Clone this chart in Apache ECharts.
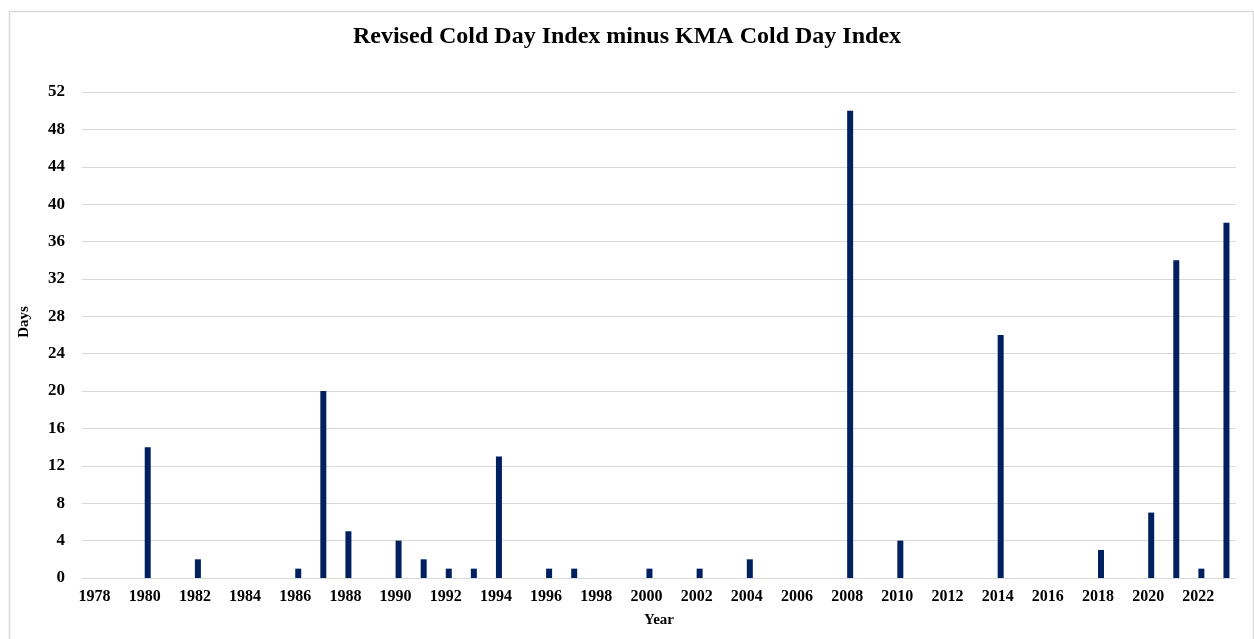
<!DOCTYPE html>
<html>
<head>
<meta charset="utf-8">
<script src="https://cdn.jsdelivr.net/npm/echarts@6/dist/echarts.min.js"></script>
<style>html,body{margin:0;padding:0;background:#fff;}#c{width:1254px;height:639px;}</style>
</head>
<body>
<div id="c"></div>
<script>
const years = [];
for (let y = 1978; y <= 2023; y++) years.push(String(y));
const values = [0,0,14,0,2,0,0,0,1,20,5,0,4,2,1,1,13,0,1,1,0,0,1,0,1,0,2,0,0,0,50,0,4,0,0,0,26,0,0,0,3,0,7,34,1,38];
const titleText = 'Revised Cold Day Index minus KMA Cold Day Index';
const yName = 'Days';
const xName = 'Year';

const chart = echarts.init(document.getElementById('c'));
const font = '"Liberation Serif", "Times New Roman", serif';
chart.setOption({
  animation: false,
  graphic: [{
    type: 'rect', left: 7, top: 9, silent: true,
    shape: { width: 1244, height: 640 },
    style: { fill: 'none', stroke: '#d9d9d9', lineWidth: 1.5 }
  }],
  title: {
    text: titleText, left: 'center', top: 20,
    textStyle: { fontFamily: font, fontWeight: 'bold', fontSize: 24, color: '#000' }
  },
  grid: { left: 82, right: 18, top: 92, bottom: 61 },
  xAxis: {
    type: 'category', data: years,
    name: xName, nameLocation: 'middle', nameGap: 35,
    nameTextStyle: { fontFamily: font, fontWeight: 'bold', fontSize: 15, color: '#000' },
    axisLine: { show: false }, axisTick: { show: false },
    axisLabel: { interval: 1, fontFamily: font, fontWeight: 'bold', fontSize: 16, color: '#000', margin: 11 }
  },
  yAxis: {
    type: 'value', min: 0, max: 52, interval: 4,
    name: yName, nameLocation: 'middle', nameGap: 50,
    nameTextStyle: { fontFamily: font, fontWeight: 'bold', fontSize: 15, color: '#000', padding: [0, 0, 0, 26] },
    axisLine: { show: false }, axisTick: { show: false },
    axisLabel: { fontFamily: font, fontWeight: 'bold', fontSize: 17, color: '#000', margin: 17 },
    splitLine: { lineStyle: { color: '#d9d9d9', width: 1 } }
  },
  series: [
    { type: 'bar', data: [], barWidth: 6, barGap: '0%', silent: true },
    { type: 'bar', data: values, barWidth: 6, barGap: '0%', itemStyle: { color: '#002060' } }
  ]
});
</script>
</body>
</html>
